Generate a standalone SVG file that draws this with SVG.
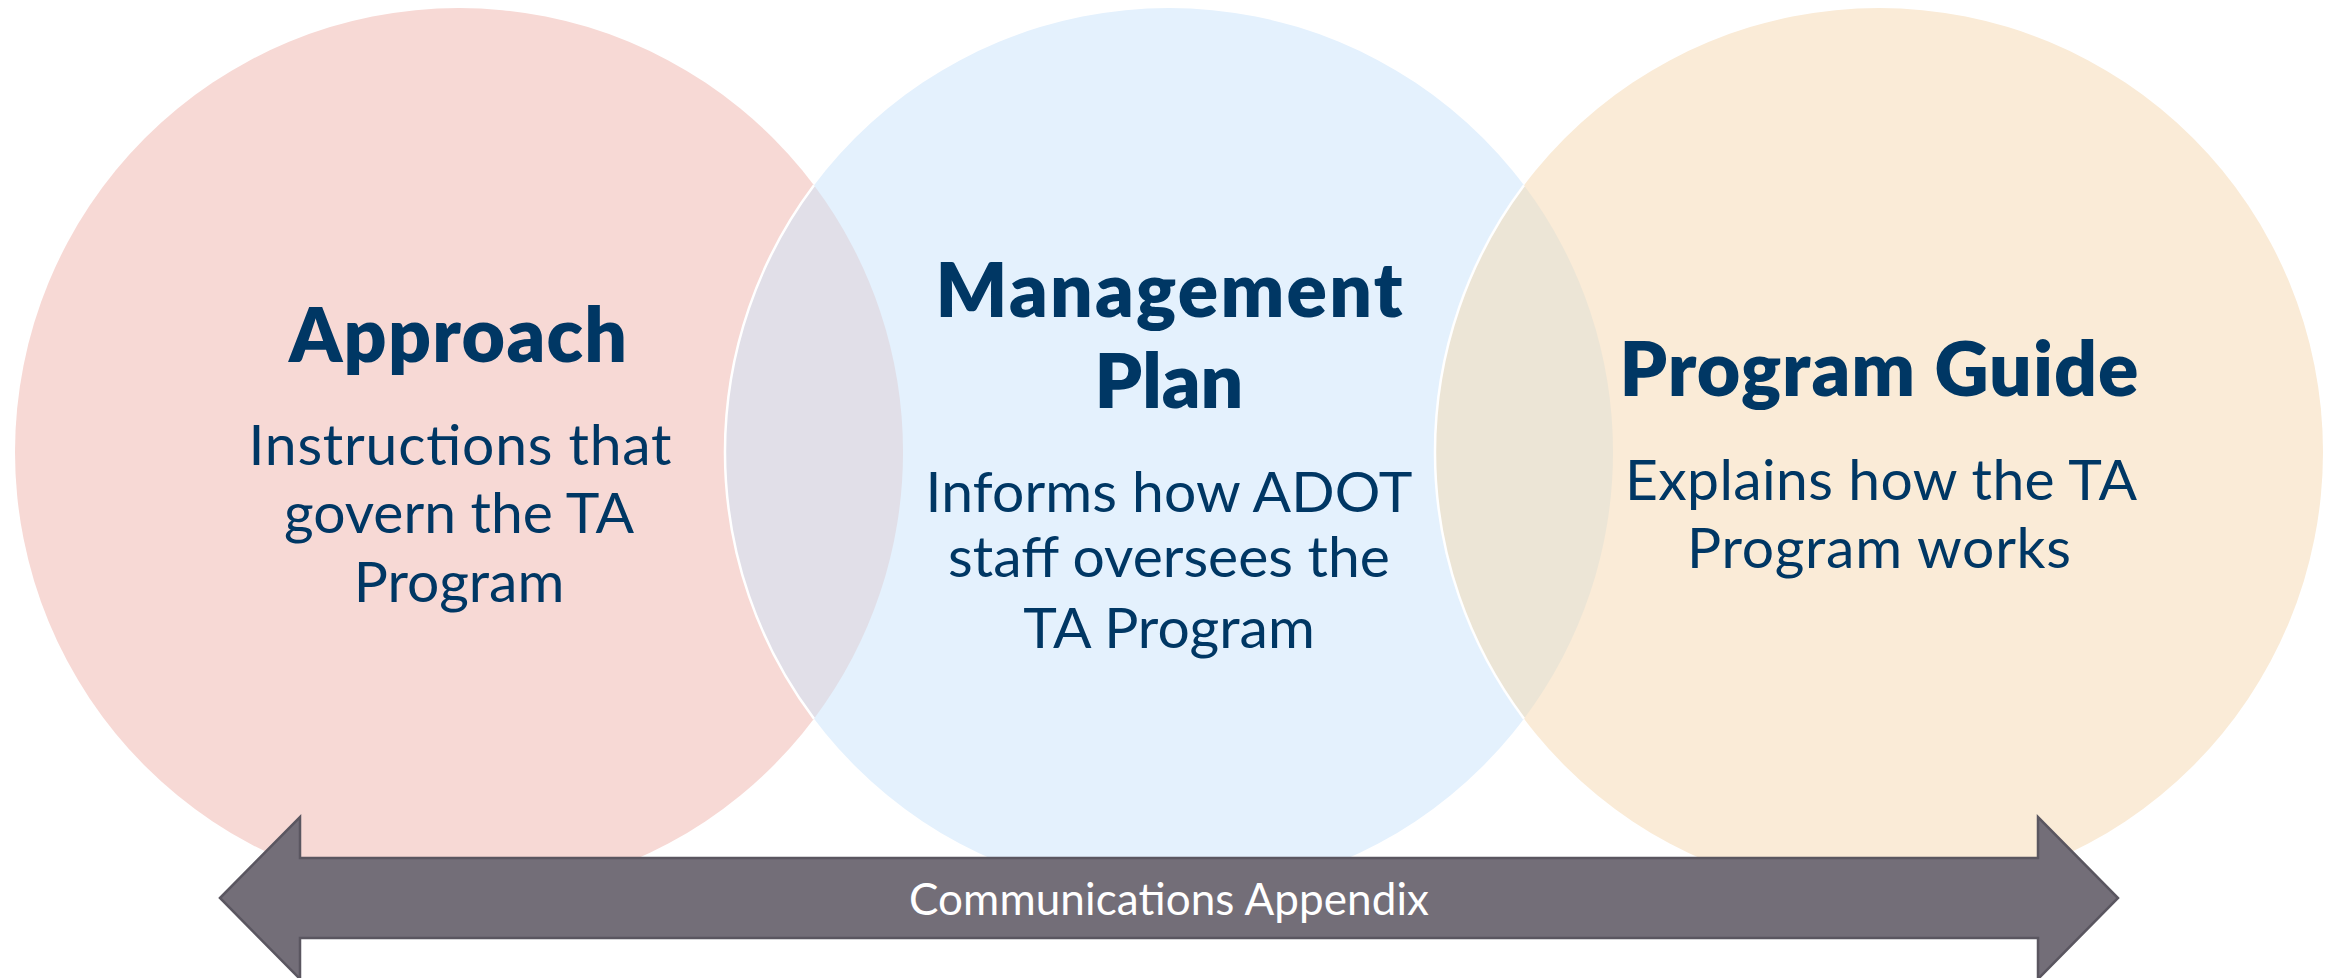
<svg xmlns="http://www.w3.org/2000/svg" width="2340" height="978" viewBox="0 0 2340 978">
<style>
.t{font-family:Lato,"Open Sans","Liberation Sans",sans-serif;fill:#003764;text-anchor:middle}
.b{font-weight:800;font-size:75px}
.r{font-weight:400;font-size:57px}
.edge{fill:none;stroke:#ffffff;stroke-width:2.5}
</style>
<rect width="2340" height="978" fill="#ffffff"/>
<g id="approach">
<circle cx="459" cy="452" r="444" fill="#F7D9D5"/>
</g>
<g id="management-plan">
<circle cx="1169" cy="452" r="444" fill="#E4F1FD"/>
</g>
<g id="program-guide">
<circle cx="1879" cy="452" r="444" fill="#FAEBD7"/>
</g>
<g id="overlaps">
<path d="M814 185.3 A444 444 0 0 0 814 718.7 A444 444 0 0 0 814 185.3 Z" fill="#E1DFE8"/>
<path d="M1524 185.3 A444 444 0 0 0 1524 718.7 A444 444 0 0 0 1524 185.3 Z" fill="#ECE5D6"/>
<path class="edge" d="M814 185.3 A444 444 0 0 0 814 718.7"/>
<path class="edge" d="M1524 185.3 A444 444 0 0 0 1524 718.7"/>
</g>
<g id="approach-text">
<text class="t b" x="458" y="362" textLength="338">Approach</text>
<text class="t r" x="460" y="465" textLength="423">Instructions that</text>
<text class="t r" x="459" y="533">govern the TA</text>
<text class="t r" x="459" y="602">Program</text>
</g>
<g id="management-plan-text">
<text class="t b" x="1169" y="317" textLength="467">Management</text>
<text class="t b" x="1169" y="408">Plan</text>
<text class="t r" x="1169" y="512" textLength="487">Informs how ADOT</text>
<text class="t r" x="1169" y="577">staff oversees the</text>
<text class="t r" x="1169" y="648">TA Program</text>
</g>
<g id="program-guide-text">
<text class="t b" x="1879" y="396" textLength="519">Program Guide</text>
<text class="t r" x="1881" y="500" textLength="512">Explains how the TA</text>
<text class="t r" x="1879" y="568" textLength="384">Program works</text>
</g>
<g id="connectors">
<path d="M220 898 L300 817 L300 858 L2038 858 L2038 817 L2118 898 L2038 979 L2038 938 L300 938 L300 979 Z" fill="#736E78" stroke="#5A5660" stroke-width="2.5" stroke-linejoin="miter"/>
<text x="1169" y="915" textLength="520" style="font-family:Lato,'Open Sans','Liberation Sans',sans-serif;font-size:44px;fill:#ffffff;text-anchor:middle">Communications Appendix</text>
</g>
</svg>
